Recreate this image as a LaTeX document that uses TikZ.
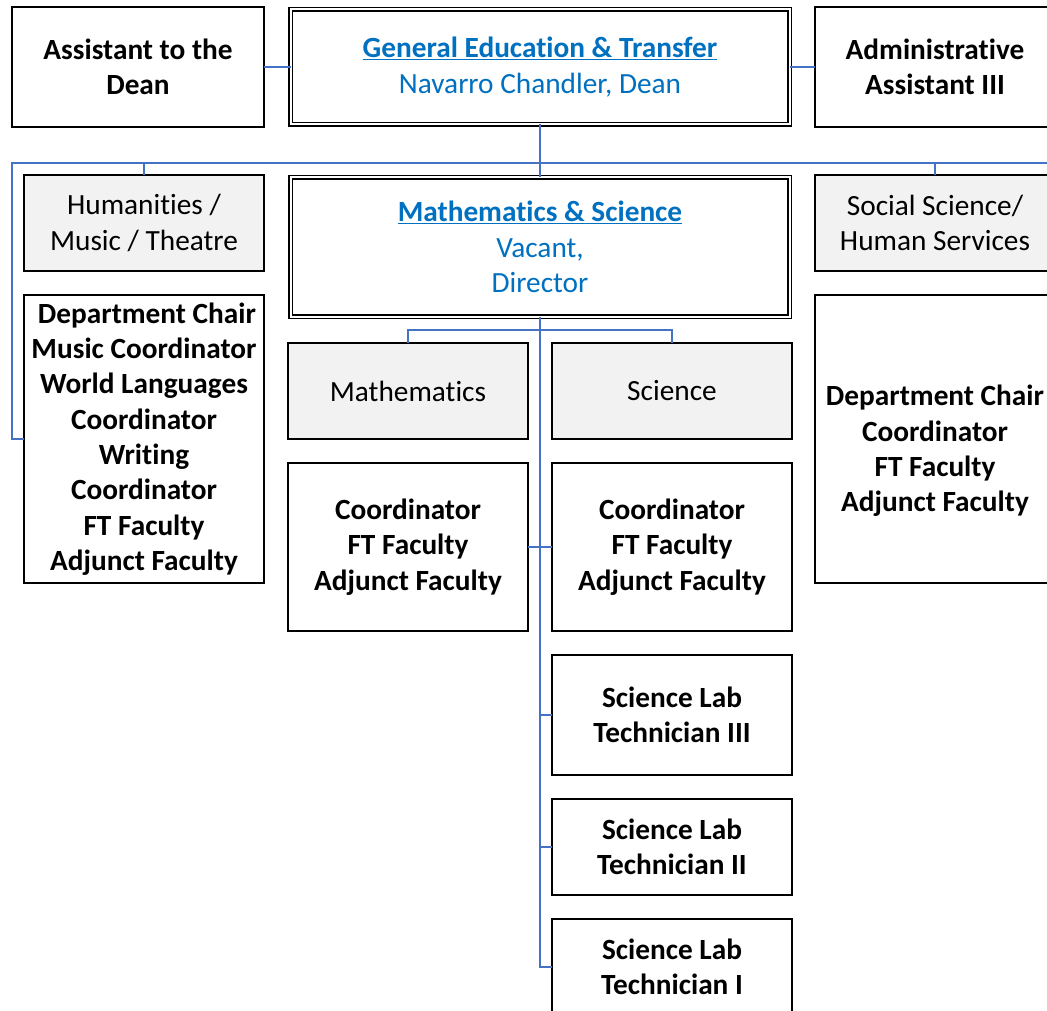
\documentclass[tikz,border=0pt]{standalone}
\usepackage{fontspec}
\setmainfont{Carlito}[Ligatures=NoCommon]
\definecolor{txtblue}{HTML}{0070C0}
\definecolor{lnblue}{HTML}{4472C4}
\definecolor{boxgray}{HTML}{F2F2F2}
\begin{document}
\begin{tikzpicture}[x=1pt,y=-1pt,
  box/.style={draw=black, line width=2pt, fill=white, inner sep=0pt, outer sep=0pt, align=center,
    text=black, font=\fontsize{29.3}{35.3}\selectfont},
  bbox/.style={box, font=\fontsize{29.3}{35.3}\selectfont\bfseries},
  gbox/.style={box, fill=boxgray},
  dbox/.style={box, double=white, double distance=2pt, line width=1.4pt, text=txtblue, font=\fontsize{29.3}{35.3}\selectfont},
  conn/.style={draw=lnblue, line width=1.8pt}]
\useasboundingbox (0,0) rectangle (1047,1011);
\clip (0,0) rectangle (1047,1011);

% top row
\node[bbox, minimum width=252pt, minimum height=120pt] (asst) at (138,67) {Assistant to the\\Dean};
\node[dbox, minimum width=499pt, minimum height=115pt] (gened) at (540,67)
  {\textbf{\underline{General Education \& Transfer}}\\Navarro Chandler, Dean};
\node[bbox, minimum width=240pt, minimum height=120pt] (admin) at (935,67) {Administrative\\Assistant III};

% second row
\node[gbox, minimum width=240pt, minimum height=96pt] (hum) at (144,223) {Humanities /\\Music / Theatre};
\node[dbox, minimum width=499pt, minimum height=139pt] (mathsci) at (540,247)
  {\textbf{\underline{Mathematics \& Science}}\\Vacant,\\Director};
\node[gbox, minimum width=240pt, minimum height=96pt] (soc) at (935,223) {Social Science/\\Human Services};

% lists
\node[bbox, minimum width=240pt, minimum height=288pt] (humlist) at (144,439)
  {\hspace*{6pt}Department Chair\\Music Coordinator\\World Languages\\Coordinator\\Writing\\Coordinator\\FT Faculty\\Adjunct Faculty};
\node[bbox, minimum width=240pt, minimum height=288pt] (soclist) at (935,439)
  {\raisebox{-19pt}[0pt][0pt]{\begin{tabular}{@{}c@{}}Department Chair\\Coordinator\\FT Faculty\\Adjunct Faculty\end{tabular}}};

% math / science
\node[gbox, minimum width=240pt, minimum height=96pt] (math) at (408,391) {Mathematics};
\node[gbox, minimum width=240pt, minimum height=96pt] (sci) at (672,391) {Science};
\node[bbox, minimum width=240pt, minimum height=168pt] (mathlist) at (408,547) {Coordinator\\FT Faculty\\Adjunct Faculty};
\node[bbox, minimum width=240pt, minimum height=168pt] (scilist) at (672,547) {Coordinator\\FT Faculty\\Adjunct Faculty};
\node[bbox, minimum width=240pt, minimum height=120pt] (tech3) at (672,715) {Science Lab\\Technician III};
\node[bbox, minimum width=240pt, minimum height=96pt] (tech2) at (672,847) {Science Lab\\Technician II};
\node[bbox, minimum width=240pt, minimum height=96pt] (tech1) at (672,967) {Science Lab\\Technician I};

% connectors
\coordinate (busL) at (12,163);
\coordinate (busR) at (1047,163);
\coordinate (spine) at (540,600);
\draw[conn] (asst.east) -- (gened.west);
\draw[conn] (gened.east) -- (admin.west);
\draw[conn] (gened.south) -- (mathsci.north);
\draw[conn] (humlist.west) -| (busL) -- (busR);
\draw[conn] (hum.north) -- (hum.north |- busL);
\draw[conn] (soc.north) -- (soc.north |- busL);
\draw[conn] (math.north) -- ++(0,-13) -| (sci.north);
\draw[conn] (mathsci.south) -- (spine |- tech1.west) -- (tech1.west);
\draw[conn] (mathlist.east) -- (scilist.west);
\draw[conn] (spine |- tech3.west) -- (tech3.west);
\draw[conn] (spine |- tech2.west) -- (tech2.west);
\end{tikzpicture}
\end{document}
